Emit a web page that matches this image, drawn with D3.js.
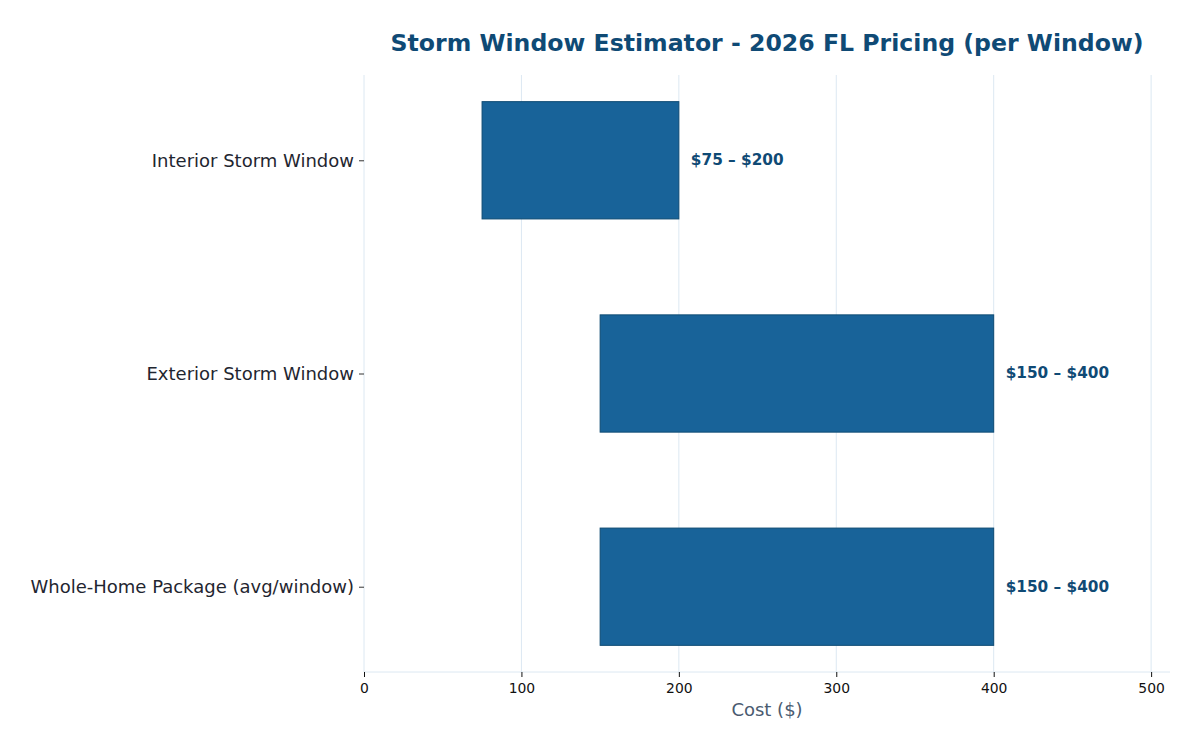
<!DOCTYPE html>
<html>
<head>
<meta charset="UTF-8">
<title>Storm Window Estimator</title>
<script src="https://d3js.org/d3.v7.min.js"></script>
<style>
  body { margin: 0; background: #fff; }
  text { font-family: "DejaVu Sans", sans-serif; }
</style>
</head>
<body>
<svg id="chart" width="1200" height="750"></svg>
<script>
// data
const categories = ["Interior Storm Window", "Exterior Storm Window", "Whole-Home Package (avg/window)"];
const lowValues = [75, 150, 150];
const highValues = [200, 400, 400];
const xTicks = [0, 100, 200, 300, 400, 500];

const svg = d3.select("#chart");
const plotLeft = 364, plotRight = 1170, plotTop = 75, plotBottom = 672;

const x = d3.scaleLinear().domain([0, 512]).range([plotLeft, plotRight]);
const y = d3.scaleLinear().domain([-0.4, 2.4]).range([plotTop, plotBottom]);
const barH = y(0.275) - y(-0.275);

// grid
svg.append("g")
  .selectAll("line")
  .data(xTicks)
  .enter().append("line")
  .attr("x1", d => x(d)).attr("x2", d => x(d))
  .attr("y1", plotTop).attr("y2", plotBottom)
  .attr("stroke", "#dce8f2")
  .attr("stroke-width", 1);

// bottom spine
svg.append("line")
  .attr("x1", plotLeft).attr("x2", plotRight)
  .attr("y1", plotBottom).attr("y2", plotBottom)
  .attr("stroke", "#dce8f2");

// bars
svg.append("g")
  .selectAll("rect")
  .data(categories)
  .enter().append("rect")
  .attr("x", (d, i) => x(lowValues[i]))
  .attr("width", (d, i) => x(highValues[i]) - x(lowValues[i]))
  .attr("y", (d, i) => y(i) - barH / 2)
  .attr("height", barH)
  .attr("fill", "#186399")
  .attr("stroke", "#0d4a73")
  .attr("stroke-width", 1);

// value labels
svg.append("g")
  .selectAll("text")
  .data(categories)
  .enter().append("text")
  .attr("x", (d, i) => x(highValues[i]) + 12)
  .attr("y", (d, i) => y(i))
  .attr("dy", "0.32em")
  .attr("font-size", 15.3)
  .attr("font-weight", "bold")
  .attr("fill", "#0f4a75")
  .text((d, i) => "$" + lowValues[i] + " \u2013 $" + highValues[i]);

// x axis
const xAxis = svg.append("g")
  .attr("transform", `translate(0,${plotBottom})`)
  .call(d3.axisBottom(x).tickValues(xTicks).tickSize(5).tickPadding(6));
xAxis.select(".domain").remove();
xAxis.selectAll("text").attr("font-size", 13.9).attr("fill", "#111");
xAxis.selectAll("line").attr("stroke", "#111");

// y axis
const yAxis = svg.append("g")
  .attr("transform", `translate(${plotLeft},0)`)
  .call(d3.axisLeft(y).tickValues([0, 1, 2]).tickFormat(i => categories[i]).tickSize(5).tickPadding(5));
yAxis.select(".domain").remove();
yAxis.selectAll("text").attr("font-size", 18).attr("fill", "#1f2630");
yAxis.selectAll("line").attr("stroke", "#333");

// axis label
svg.append("text")
  .attr("x", (plotLeft + plotRight) / 2)
  .attr("y", 716)
  .attr("text-anchor", "middle")
  .attr("font-size", 18)
  .attr("fill", "#4a5b70")
  .text("Cost ($)");

// title
svg.append("text")
  .attr("x", (plotLeft + plotRight) / 2)
  .attr("y", 51)
  .attr("text-anchor", "middle")
  .attr("font-size", 23.6)
  .attr("font-weight", "bold")
  .attr("fill", "#0f4a75")
  .attr("textLength", 753)
  .attr("lengthAdjust", "spacingAndGlyphs")
  .text("Storm Window Estimator - 2026 FL Pricing (per Window)");
</script>
</body>
</html>
